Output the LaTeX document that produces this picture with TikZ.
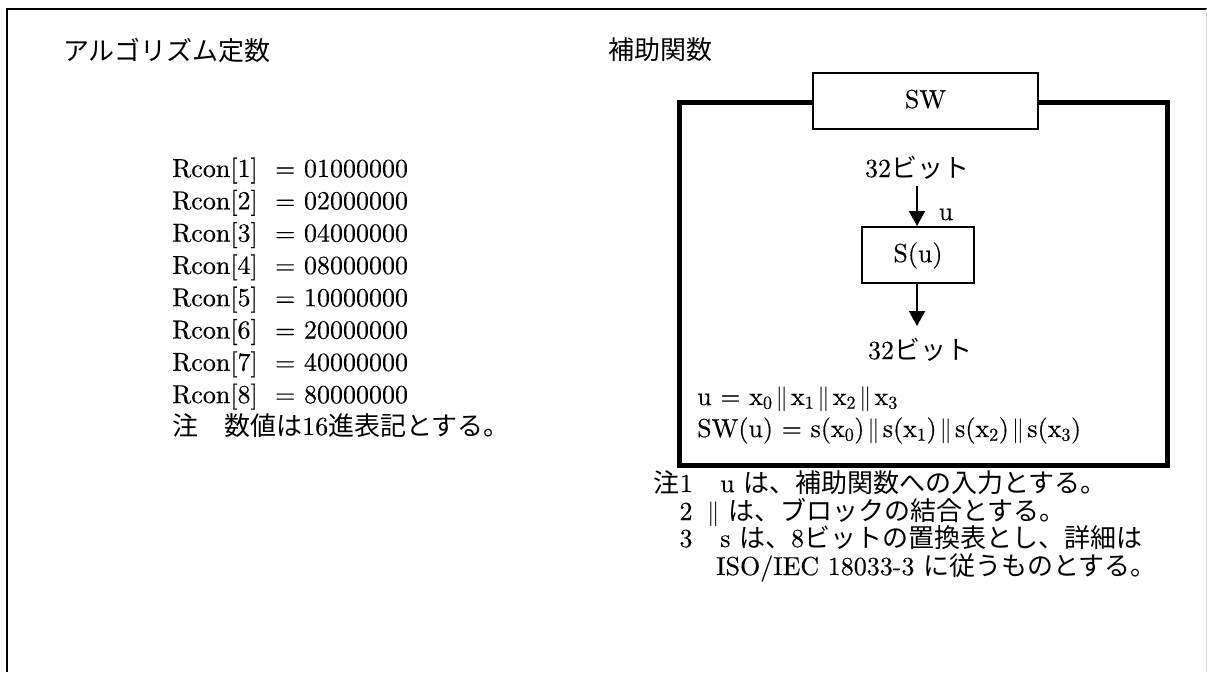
\documentclass[tikz,border=0pt]{standalone}
\usepackage{fontspec}
\setmainfont{lmroman10-regular.otf}[FakeBold=0.4]
\newfontfamily\jp{Noto Sans CJK JP}
\usetikzlibrary{arrows.meta}
\newcommand{\cat}{\hspace{3pt}$\Vert$\hspace{3pt}}
\begin{document}
\begin{tikzpicture}[x=1pt,y=-1pt,
  every node/.style={inner sep=0pt, text height=19pt, text depth=5pt, font=\fontsize{26}{30}\selectfont},
  txt/.style={anchor=west},
  box/.style={draw, line width=2pt, fill=white, inner sep=0pt},
  arr/.style={line width=2pt, -{Triangle[width=16pt,length=15pt]}}]
\useasboundingbox (0,0) rectangle (1207,672);
% outer frame
\draw[line width=2pt] (7,672) -- (7,9) -- (1207,9);
\draw[gray!25, line width=1pt] (1206,9) -- (1206,672);
% headings
\node[txt] (h1) at (63,53) {\jp アルゴリズム定数};
\node[txt] (h2) at (608,52) {\jp 補助関数};
% Rcon list
\foreach \k/\v in {1/01000000,2/02000000,3/04000000,4/08000000,5/10000000,6/20000000,7/40000000,8/80000000}
  \node[txt] (r\k) at (172,{170+(\k-1)*32.3}) {Rcon[\k]~~= \v};
\node[txt] (rn) at (172,428) {{\jp 注　数値は}16{\jp 進表記とする。}};
% SW frame
\draw[line width=5pt] (679,102) rectangle (1167,465);
\node[box, minimum width=225pt, minimum height=56pt] (sw) at (925.5,101) {SW};
\node (t1) at (917,170) {32{\jp ビット}};
\node[box, minimum width=112pt, minimum height=56pt] (s) at (918,255) {S(u)};
\coordinate (a1) at (917,186);
\draw[arr] (a1) -- (s.north -| a1);
\node (ul) at (946,213) {u};
\coordinate (a2) at (917,326);
\draw[arr] (s.south -| a2) -- (a2);
\node (t2) at (920,352) {32{\jp ビット}};
\node[txt] (ueq) at (697,398) {u = x\textsubscript{0}\cat x\textsubscript{1}\cat x\textsubscript{2}\cat x\textsubscript{3}};
\node[txt] (sweq) at (697,430) {SW(u) = s(x\textsubscript{0})\cat s(x\textsubscript{1})\cat s(x\textsubscript{2})\cat s(x\textsubscript{3})};
% notes
\node[anchor=east] (n1a) at (693,485) {{\jp 注}1};
\node[txt] (n1b) at (720,485) {u {\jp は、補助関数への入力とする。}};
\node (n2a) at (686,513) {2};
\node[txt] (n2b) at (707,513) {$\Vert$ {\jp は、ブロックの結合とする。}};
\node (n3a) at (686,540) {3};
\node[txt] (n3b) at (720,540) {s {\jp は、}8{\jp ビットの置換表とし、詳細は}};
\node[txt] (n4) at (716,568) {ISO/IEC 18033-3 {\jp に従うものとする。}};
\end{tikzpicture}
\end{document}
